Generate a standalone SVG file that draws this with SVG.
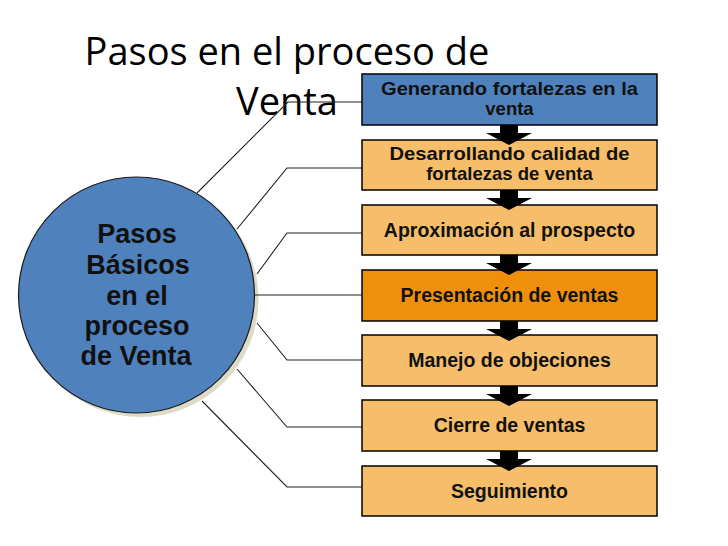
<svg xmlns="http://www.w3.org/2000/svg" width="728" height="546" viewBox="0 0 728 546">
<style>
.box{stroke:#000;stroke-width:1.5}
.lt{fill:#F6BE6A}
.dk{fill:#F0900A}
.bl{fill:#4F81BD}
.bt{font-family:"Liberation Sans",Arial,sans-serif;font-weight:bold;font-size:19.5px;fill:#111;text-anchor:middle}
.b2{font-size:18.5px}
.ct{font-family:"Liberation Sans",Arial,sans-serif;font-weight:bold;font-size:27px;fill:#111;text-anchor:middle}
.title{font-family:"Open Sans",sans-serif;font-size:38px;fill:#000;text-anchor:middle}
.con{fill:none;stroke:#222;stroke-width:1.1}
.arr{fill:#000}
</style>
<rect width="728" height="546" fill="#fff"/>
<g id="title">
<text class="title" x="287" y="65">Pasos en el proceso de</text>
<text class="title" x="287" y="115">Venta</text>
</g>
<g id="circle">
<circle cx="140.5" cy="299" r="118" fill="#DEDAC8"/>
<circle cx="136.5" cy="295" r="118" class="bl" stroke="#1a1a1a" stroke-width="1.2"/>
<text class="ct" x="137" y="243">Pasos</text>
<text class="ct" x="138" y="274">Básicos</text>
<text class="ct" x="137" y="305">en el</text>
<text class="ct" x="137" y="335">proceso</text>
<text class="ct" x="136" y="365">de Venta</text>
</g>
<g id="connectors">
<path class="con" d="M197,193 L288,102 L362,102"/>
<path class="con" d="M237,229 L287,168 L362,168"/>
<path class="con" d="M257,274 L287,233 L362,233"/>
<path class="con" d="M255,295 L362,295"/>
<path class="con" d="M257,323 L287,360 L362,360"/>
<path class="con" d="M237,369 L287,427 L362,427"/>
<path class="con" d="M202,401 L287,487 L362,487"/>
</g>
<g id="box1"><rect class="box bl" x="362" y="74" width="295" height="51"/>
<text class="bt b2" x="509.5" y="94.5" textLength="257" lengthAdjust="spacingAndGlyphs">Generando fortalezas en la</text>
<text class="bt b2" x="509.5" y="115">venta</text></g>
<g id="box2"><rect class="box lt" x="362" y="140" width="295" height="50"/>
<text class="bt b2" x="509.5" y="159.5" textLength="240" lengthAdjust="spacingAndGlyphs">Desarrollando calidad de</text>
<text class="bt b2" x="509.5" y="180">fortalezas de venta</text></g>
<g id="box3"><rect class="box lt" x="362" y="205" width="295" height="50"/>
<text class="bt" x="509.5" y="236.5">Aproximación al prospecto</text></g>
<g id="box4"><rect class="box dk" x="362" y="270" width="295" height="51"/>
<text class="bt" x="509.5" y="302">Presentación de ventas</text></g>
<g id="box5"><rect class="box lt" x="362" y="335" width="295" height="51"/>
<text class="bt" x="509.5" y="367">Manejo de objeciones</text></g>
<g id="box6"><rect class="box lt" x="362" y="400" width="295" height="51"/>
<text class="bt" x="509.5" y="432">Cierre de ventas</text></g>
<g id="box7"><rect class="box lt" x="362" y="466" width="295" height="50"/>
<text class="bt" x="509.5" y="497.5">Seguimiento</text></g>
<g id="arrows">
<defs><path id="ar" d="M500,0 H518 V8 H532 L509,20 L486,8 H500 Z"/></defs>
<use href="#ar" class="arr" y="125"/>
<use href="#ar" class="arr" y="190"/>
<use href="#ar" class="arr" y="255"/>
<use href="#ar" class="arr" y="321"/>
<use href="#ar" class="arr" y="386"/>
<use href="#ar" class="arr" y="451"/>
</g>
</svg>
